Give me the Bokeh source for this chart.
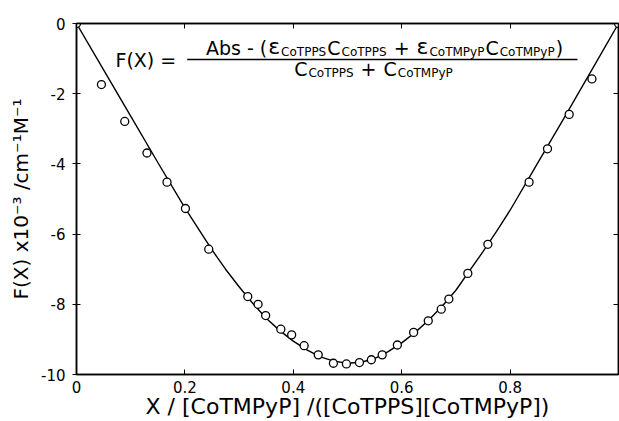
from bokeh.plotting import figure
from bokeh.models import Range1d, LinearAxis, FixedTicker, ColumnDataSource
from bokeh.core.properties import value
from bokeh.embed import file_html
from bokeh.resources import INLINE

# ---------------- data ----------------
pts_x = [0.0, 0.046, 0.089, 0.130, 0.167, 0.201, 0.244, 0.316, 0.335, 0.349,
         0.377, 0.397, 0.420, 0.446, 0.474, 0.498, 0.522, 0.544, 0.564, 0.592,
         0.622, 0.649, 0.673, 0.687, 0.722, 0.759, 0.835, 0.869, 0.909, 0.951, 1.0]
pts_y = [0.0, -1.74, -2.79, -3.69, -4.52, -5.27, -6.43, -7.78, -8.00, -8.32,
         -8.71, -8.87, -9.18, -9.44, -9.68, -9.70, -9.66, -9.58, -9.44, -9.16,
         -8.80, -8.47, -8.14, -7.85, -7.12, -6.29, -4.52, -3.57, -2.59, -1.58, 0.0]

curve_x = [0.0, 0.05, 0.1, 0.15, 0.2, 0.25, 0.275, 0.3, 0.325, 0.35, 0.375, 0.4,
           0.425, 0.45, 0.475, 0.5, 0.525, 0.55, 0.575, 0.6, 0.625, 0.65, 0.675,
           0.7, 0.725, 0.75, 0.775, 0.8, 0.85, 0.9, 0.95, 1.0]
curve_y = [0.0, -1.32, -2.64, -3.96, -5.25, -6.45, -7.0, -7.5, -7.97, -8.4, -8.75,
           -9.05, -9.3, -9.5, -9.62, -9.68, -9.65, -9.55, -9.35, -9.1, -8.8, -8.45,
           -8.05, -7.6, -7.05, -6.5, -5.92, -5.32, -4.0, -2.68, -1.34, 0.0]

x_ticks = [0, 0.2, 0.4, 0.6, 0.8]
x_tick_labels = ["0", "0.2", "0.4", "0.6", "0.8"]
y_ticks = [0, -2, -4, -6, -8, -10]
y_tick_labels = ["0", "-2", "-4", "-6", "-8", "-10"]
x_title = "X / [CoTMPyP] /([CoTPPS][CoTMPyP])"
y_title = "F(X) x10\u207b\u00b3 /cm\u207b\u00b9M\u207b\u00b9"

FONT = "DejaVu Sans"

# ---------------- layout ----------------
W, H = 619, 421
BL, BR, BT, BB = 76, 1, 23, 47
FW, FH = W - BL - BR, H - BT - BB
X0, X1, Y0, Y1 = 0.0, 1.0, -10.0, 0.0

p = figure(width=W, height=H, output_backend="svg", toolbar_location=None,
           x_range=Range1d(X0, X1), y_range=Range1d(Y0, Y1),
           min_border_left=BL, min_border_right=BR, min_border_top=BT,
           min_border_bottom=BB, background_fill_color="white",
           border_fill_color="white")
p.grid.visible = False
p.outline_line_color = "black"
p.outline_line_width = 1.5

# bottom axis
xa = p.xaxis[0]
xa.ticker = FixedTicker(ticks=x_ticks)
xa.major_label_overrides = dict(zip(x_ticks, x_tick_labels))
xa.major_tick_in = 5
xa.major_tick_out = 0
xa.minor_tick_line_color = None
xa.major_label_standoff = 6
xa.major_label_text_font = FONT
xa.major_label_text_font_size = "15px"
xa.major_label_text_color = "black"
xa.axis_label = x_title
xa.axis_label_text_font = FONT
xa.axis_label_text_font_size = "22px"
xa.axis_label_text_font_style = "normal"
xa.axis_label_text_color = "black"
xa.axis_label_standoff = -2
xa.axis_line_width = 1.5

# left axis
ya = p.yaxis[0]
ya.ticker = FixedTicker(ticks=y_ticks)
ya.major_label_overrides = dict(zip(y_ticks, y_tick_labels))
ya.major_tick_in = 4
ya.major_tick_out = 4
ya.minor_tick_line_color = None
ya.major_label_standoff = 7
ya.major_label_text_font = FONT
ya.major_label_text_font_size = "15px"
ya.major_label_text_color = "black"
ya.axis_label = y_title
ya.axis_label_text_font = FONT
ya.axis_label_text_font_size = "20px"
ya.axis_label_text_font_style = "normal"
ya.axis_label_text_color = "black"
ya.axis_label_standoff = 5
ya.axis_line_width = 1.5

# top / right axes: inward ticks only, no labels
top_ticks = x_ticks[1:]
right_ticks = y_ticks[1:-1]
top = LinearAxis(ticker=FixedTicker(ticks=top_ticks),
                 major_label_overrides={t: "" for t in top_ticks},
                 major_label_standoff=0, major_tick_in=5, major_tick_out=0,
                 minor_tick_line_color=None, axis_line_width=1.5)
right = LinearAxis(ticker=FixedTicker(ticks=right_ticks),
                   major_label_overrides={t: "" for t in right_ticks},
                   major_label_standoff=0, major_tick_in=5, major_tick_out=0,
                   minor_tick_line_color=None, axis_line_width=1.5)
p.add_layout(top, "above")
p.add_layout(right, "right")

# ---------------- data marks ----------------
p.line(curve_x, curve_y, line_color="black", line_width=1.4)
p.scatter(pts_x, pts_y, marker="circle", size=8, fill_color="white",
          line_color="black", line_width=1.3)

# ---------------- formula annotation ----------------
PAGE_L, PAGE_T = BL, BT


def dx(px):
    return X0 + (px - PAGE_L) / FW * (X1 - X0)


def dy(py):
    return Y1 - (py - PAGE_T) / FH * (Y1 - Y0)


WID = {" ": 318, "A": 684, "b": 635, "s": 521, "-": 361, "(": 390, ")": 390,
       "C": 698, "o": 612, "T": 611, "P": 603, "S": 635, "M": 863, "y": 592,
       "+": 838, "\u03b5": 540, "F": 575, "X": 686, "=": 838}


def tw(s, size):
    return sum(WID.get(c, 600) for c in s) / 1000.0 * size


MAIN, SUB, EPS = 19, 12, 22
fx, fy, ft, fs = [], [], [], []


def put(text, px, base, size):
    # vertically centred on the cap height above the wanted baseline
    fx.append(dx(px))
    fy.append(dy(base - 0.365 * size))
    ft.append(text)
    fs.append(f"{size}px")


def layout(runs, center, base):
    total = sum(tw(t, s) + g for t, s, g, _ in runs)
    x = center - total / 2
    for t, s, g, off in runs:
        put(t, x, base + off, s)
        x += tw(t, s) + g


put("F(X) =", 115, 66, MAIN)
num = [("Abs - (", MAIN, 1, 0), ("\u03b5", EPS, 1, 0), ("CoTPPS", SUB, 1, 1),
       ("C", MAIN, 1, 0), ("CoTPPS", SUB, 7, 1), ("+", MAIN, 7, 0),
       ("\u03b5", EPS, 1, 0), ("CoTMPyP", SUB, 1, 1), ("C", MAIN, 1, 0),
       ("CoTMPyP", SUB, 1, 1), (")", MAIN, 0, 0)]
layout(num, 384, 54.5)
den = [("C", MAIN, 1, 0), ("CoTPPS", SUB, 7, 1), ("+", MAIN, 7, 0),
       ("C", MAIN, 1, 0), ("CoTMPyP", SUB, 0, 1)]
layout(den, 373, 75.5)

src = ColumnDataSource(dict(x=fx, y=fy, text=ft, size=fs))
p.text(x="x", y="y", text="text", source=src, text_font=value(FONT),
       text_font_size="size", text_color="black",
       text_baseline="middle", text_align="left")
p.segment(x0=[dx(186.7)], y0=[dy(59)], x1=[dx(577)], y1=[dy(59)],
          line_color="black", line_width=1.5)

open("out.html", "w").write(file_html(p, INLINE))
